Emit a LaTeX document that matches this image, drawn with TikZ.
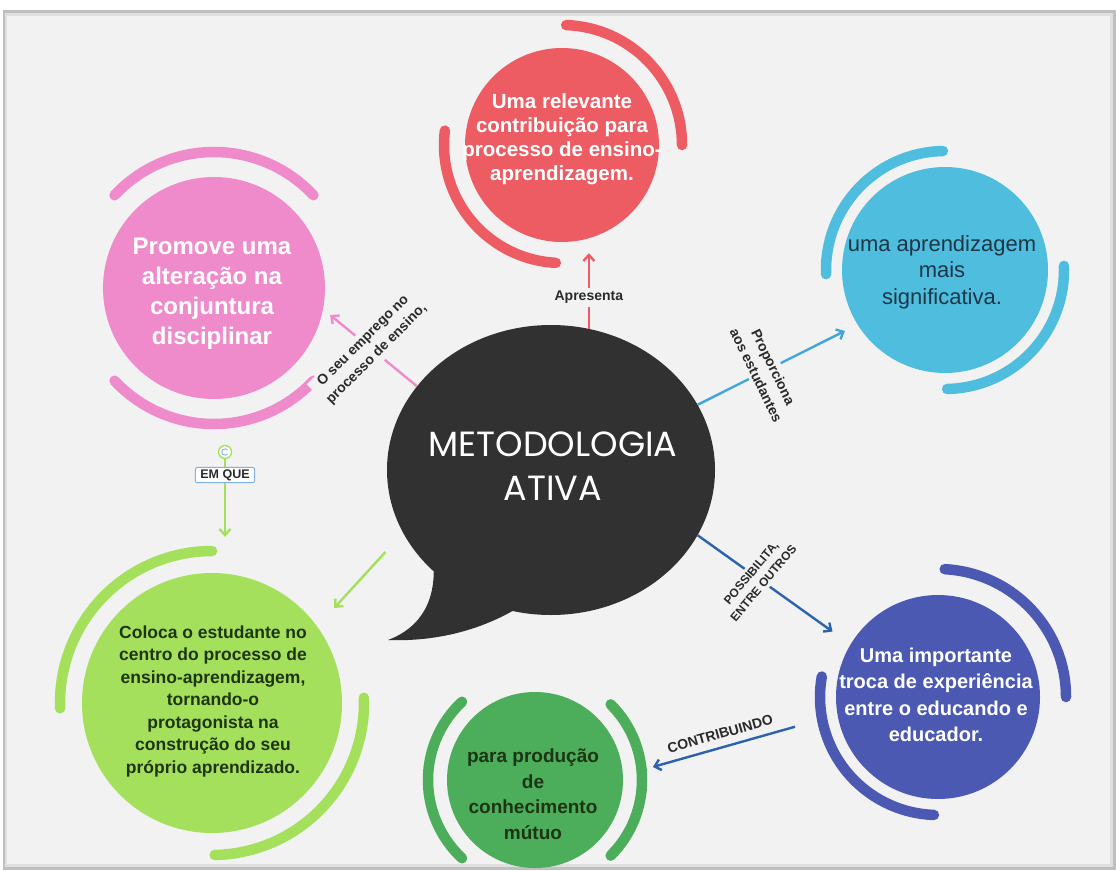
\documentclass[tikz,border=0pt]{standalone}
\usepackage{fontspec}
\setmainfont{Liberation Sans}
\newfontfamily\titlefont{Poppins}
\usetikzlibrary{arrows.meta,shapes.geometric}
\definecolor{bg}{HTML}{F2F2F2}
\definecolor{redc}{HTML}{EE5C63}
\definecolor{pinkc}{HTML}{EF8ACB}
\definecolor{cyanc}{HTML}{4FBEDE}
\definecolor{cyanl}{HTML}{3FA6DC}
\definecolor{lgreenc}{HTML}{A5E05C}
\definecolor{dgreenc}{HTML}{4CAD5B}
\definecolor{bluec}{HTML}{4B59B3}
\definecolor{bubblec}{HTML}{313131}
\definecolor{navy}{HTML}{1D3648}
\definecolor{darkg}{HTML}{1E3514}
\definecolor{linkblue}{HTML}{2D62AE}
\definecolor{labelc}{HTML}{2A2A2A}
\definecolor{pinblue}{HTML}{7FB2E0}

\begin{document}
\begin{tikzpicture}[x=1pt,y=-1pt]
\tikzstyle{disc}=[circle, inner sep=0pt]
\tikzstyle{txt}=[align=center, inner sep=0pt]
\tikzstyle{ring}=[line width=10.5pt, line cap=round]
\tikzstyle{link}=[line width=2.4pt, -{Straight Barb[length=6pt,width=11pt]}]
\tikzstyle{tag}=[fill=bg, text=labelc, font=\bfseries\fontsize{14}{19}\selectfont, align=center, inner sep=3pt]

% frame
\useasboundingbox (0,0) rectangle (1116,870);
\fill[white] (0,0) rectangle (1116,870);
\fill[gray!50] (3,10) rectangle (1116,870);
\fill[gray!25] (5,13) rectangle (1113,867);
\fill[bg] (7,16) rectangle (1110,864);

% circles
\node[disc, fill=redc, minimum size=194pt] (red) at (562,145) {};
\node[disc, fill=pinkc, minimum size=222pt] (pink) at (214,288) {};
\node[disc, fill=cyanc, minimum size=206pt] (cyan) at (945,270) {};
\node[disc, fill=lgreenc, minimum size=260pt] (lgreen) at (212,703) {};
\node[disc, fill=dgreenc, minimum size=176pt] (dgreen) at (535,780) {};
\node[disc, fill=bluec, minimum size=204pt] (blue) at (938,697) {};

% rings round the circles
\draw[ring, redc] (red.center) ++(-88:120) arc[start angle=-88, end angle=0, radius=120];
\draw[ring, redc] (red.center) ++(93:118) arc[start angle=93, end angle=187, radius=118];
\draw[ring, pinkc] (pink.center) ++(-137:136) arc[start angle=-137, end angle=-43, radius=136];
\draw[ring, pinkc] (pink.center) ++(43:136) arc[start angle=43, end angle=137, radius=136];
\draw[ring, cyanc] (cyan.center) ++(178:119) arc[start angle=178, end angle=269, radius=119];
\draw[ring, cyanc] (cyan.center) ++(-2:119) arc[start angle=-2, end angle=89, radius=119];
\draw[ring, lgreenc] (lgreen.center) ++(178:152) arc[start angle=178, end angle=270, radius=152];
\draw[ring, lgreenc] (lgreen.center) ++(-2:152) arc[start angle=-2, end angle=89, radius=152];
\draw[ring, dgreenc] (dgreen.center) ++(133:107) arc[start angle=133, end angle=227, radius=107];
\draw[ring, dgreenc] (dgreen.center) ++(-45:107) arc[start angle=-45, end angle=45, radius=107];
\draw[ring, bluec] (blue.center) ++(-87:128) arc[start angle=-87, end angle=0, radius=128];
\draw[ring, bluec] (blue.center) ++(92:118) arc[start angle=92, end angle=190, radius=118];

% speech bubble
\node[ellipse, fill=bubblec, minimum width=328pt, minimum height=290pt, inner sep=0pt] (bubble) at (551,470) {};
\fill[bubblec] (432,550) .. controls (440,600) and (420,628) .. (388,640)
  .. controls (440,642) and (490,628) .. (530,600) -- cycle;
\node[txt, text=white, font=\titlefont\fontsize{35}{44}\selectfont] (title) at (553,466) {METODOLOGIA\\ATIVA};

% texts
\node[txt, text=white, font=\bfseries\fontsize{20.5}{24}\selectfont] (redtxt) at (562,139)
  {Uma relevante\\contribuição para\\processo de ensino-\\aprendizagem.};
\node[txt, text=white, font=\bfseries\fontsize{24}{30}\selectfont] (pinktxt) at (212,294)
  {Promove uma\\alteração na\\conjuntura\\disciplinar};
\node[txt, text=navy, font=\fontsize{22}{26.5}\selectfont] (cyantxt) at (942,272)
  {uma aprendizagem\\mais\\significativa.};
\node[txt, text=darkg, font=\bfseries\fontsize{17.5}{22.5}\selectfont] (lgreentxt) at (213,701)
  {Coloca o estudante no\\centro do processo de\\ensino-aprendizagem,\\tornando-o\\protagonista na\\construção do seu\\próprio aprendizado.};
\node[txt, text=darkg, font=\bfseries\fontsize{19}{25.5}\selectfont] (dgreentxt) at (533,794)
  {para produção\\de\\conhecimento\\mútuo};
\node[txt, text=white, font=\bfseries\fontsize{20}{26.5}\selectfont] (bluetxt) at (936,695)
  {Uma importante\\troca de experiência\\entre o educando e\\educador.};

% connectors
\draw[link, redc, shorten >=11pt] (bubble.75) -- (bubble.75 |- red.south)
  node[tag, pos=.36] {Apresenta};
\draw[link, pinkc, shorten >=9pt] (bubble.148) -- (pink.-11)
  node[tag, pos=.5, rotate=45] {O seu emprego no\\processo de ensino,};
\draw[link, cyanl, shorten >=14pt] (bubble.24) -- (cyan.212)
  node[tag, pos=.42, rotate=-64] {Proporciona\\aos estudantes};
\draw[link, linkblue, shorten >=22pt] (bubble.-24) -- (blue.149)
  node[tag, pos=.39, rotate=50, font=\bfseries\fontsize{12}{16}\selectfont] {POSSIBILITA,\\ENTRE OUTROS};
\draw[link, linkblue, shorten <=44pt, shorten >=31pt] (blue.190) -- (dgreen.3)
  node[pos=.53, sloped, above=4pt, text=labelc, font=\bfseries\fontsize{14}{16}\selectfont] {CONTRIBUINDO};
\draw[link, lgreenc, shorten <=26pt, shorten >=25pt] (bubble.203) -- (lgreen.36);

% "em que" link
\node[circle, draw=lgreenc, fill=white, line width=1.3pt, minimum size=13pt, inner sep=0pt] (pin) at (225,452) {};
\draw[pinblue, line width=.9pt] (pin.center) ++(40:3.2) arc[start angle=40, end angle=320, radius=3.2];
\draw[link, lgreenc, shorten >=36pt] (pin) -- (pin |- lgreen.north)
  node[pos=.14, fill=white, draw=pinblue, line width=1pt, rounded corners=2pt, text=labelc,
       font=\bfseries\fontsize{12.5}{14}\selectfont, inner xsep=5pt, inner ysep=2pt] (emque) {EM QUE};
\end{tikzpicture}
\end{document}
